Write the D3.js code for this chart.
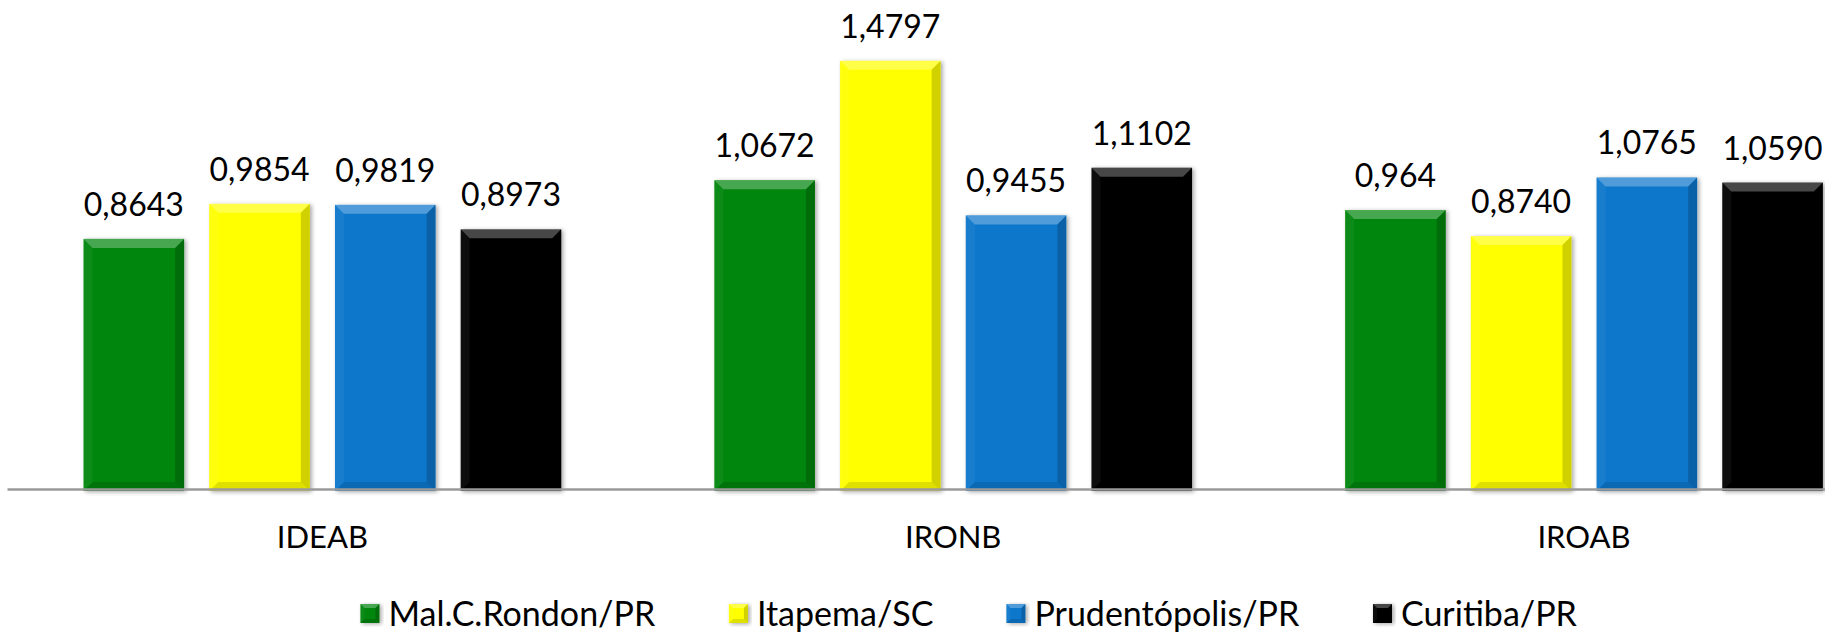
<!DOCTYPE html>
<meta charset="utf-8">
<html>
  <head>
    <script src="https://d3js.org/d3.v7.min.js" type="text/javascript"></script>
    <style>
      body { margin: 0; background: #fff; }
      text { font-family: Lato, "Open Sans", sans-serif; fill: #000; }
    </style>
  </head>
  <body>
    <div id="chart"></div>
    <script type="text/javascript">

      // --data--
      var categories = ["IDEAB", "IRONB", "IROAB"];
      var seriesNames = ["Mal.C.Rondon/PR", "Itapema/SC", "Prudentópolis/PR", "Curitiba/PR"];
      var malRondon = [0.8643, 1.0672, 0.964];
      var itapema = [0.9854, 1.4797, 0.8740];
      var prudentopolis = [0.9819, 0.9455, 1.0765];
      var curitiba = [0.8973, 1.1102, 1.0590];
      var malRondonLabels = ["0,8643", "1,0672", "0,964"];
      var itapemaLabels = ["0,9854", "1,4797", "0,8740"];
      var prudentopolisLabels = ["0,9819", "0,9455", "1,0765"];
      var curitibaLabels = ["0,8973", "1,1102", "1,0590"];

      var seriesValues = [malRondon, itapema, prudentopolis, curitiba];
      var seriesLabels = [malRondonLabels, itapemaLabels, prudentopolisLabels, curitibaLabels];
      var colors = ["#068507", "#ffff00", "#0777cc", "#050505"];

      var width = 1825,
          height = 632,
          axisY = 489,
          bevel = 9;

      var svg = d3.select("#chart").append("svg")
          .attr("width", width)
          .attr("height", height);

      // soft shadow round the bars
      var defs = svg.append("defs");
      var shadow = defs.append("filter").attr("id", "shadow")
          .attr("x", "-10%").attr("y", "-10%").attr("width", "130%").attr("height", "130%");
      shadow.append("feDropShadow")
          .attr("dx", 2).attr("dy", 1)
          .attr("stdDeviation", 2)
          .attr("flood-color", "#000")
          .attr("flood-opacity", 0.35);

      var x0 = d3.scaleBand()
          .domain(categories)
          .range([7, 7 + 3 * 630.8])
          .paddingInner(0)
          .paddingOuter(0);

      var x1 = d3.scaleBand()
          .domain(seriesNames)
          .range([0, x0.bandwidth()])
          .paddingInner(0.2)
          .paddingOuter(0.609);

      var y = d3.scaleLinear()
          .domain([0, 1.6])
          .range([axisY, 26]);

      // flatten into one record per bar
      var bars = [];
      categories.forEach(function(c, i) {
        seriesNames.forEach(function(s, j) {
          bars.push({cat: c, series: s, idx: j, value: seriesValues[j][i], label: seriesLabels[j][i]});
        });
      });

      // draws a bevelled rectangle (Excel style) into group g
      function bevelBox(g, x, yTop, w, h, color, b) {
        g.append("rect")
            .attr("x", x).attr("y", yTop)
            .attr("width", w).attr("height", h)
            .attr("fill", color)
            .attr("filter", "url(#shadow)");
        var pts = {
          top: [[x, yTop], [x + w, yTop], [x + w - b, yTop + b], [x + b, yTop + b]],
          left: [[x, yTop], [x + b, yTop + b], [x + b, yTop + h - b], [x, yTop + h]],
          right: [[x + w, yTop], [x + w, yTop + h], [x + w - b, yTop + h - b], [x + w - b, yTop + b]],
          bottom: [[x, yTop + h], [x + b, yTop + h - b], [x + w - b, yTop + h - b], [x + w, yTop + h]]
        };
        var shade = {
          top: ["#fff", 0.28],
          left: ["#fff", 0.05],
          right: ["#000", 0.18],
          bottom: ["#000", 0.12]
        };
        Object.keys(pts).forEach(function(k) {
          g.append("polygon")
              .attr("points", pts[k].map(function(p) { return p.join(","); }).join(" "))
              .attr("fill", shade[k][0])
              .attr("fill-opacity", shade[k][1]);
        });
      }

      var barG = svg.append("g").attr("class", "bars");
      bars.forEach(function(d) {
        var bx = x0(d.cat) + x1(d.series);
        var by = y(d.value);
        bevelBox(barG.append("g"), bx, by, x1.bandwidth(), axisY + 2 - by, colors[d.idx], bevel);
      });

      // --axis--
      var axis = svg.append("g")
          .attr("transform", "translate(0," + axisY + ")")
          .call(d3.axisBottom(x0).tickSize(0));
      axis.select(".domain")
          .attr("stroke", "#9a9a9a")
          .attr("stroke-width", 2.5);
      axis.selectAll("text")
          .attr("y", 59)
          .attr("dy", null)
          .style("font-family", "Lato, 'Open Sans', sans-serif")
          .style("font-size", "31px")
          .attr("fill", "#000");

      // --value labels--
      svg.append("g").attr("class", "labels")
        .selectAll("text")
        .data(bars)
        .enter().append("text")
          .attr("x", function(d) { return x0(d.cat) + x1(d.series) + x1.bandwidth() / 2; })
          .attr("y", function(d) { return y(d.value) - 23; })
          .attr("text-anchor", "middle")
          .style("font-size", "32px")
          .text(function(d) { return d.label; });

      // --legend--
      var legend = svg.append("g").attr("class", "legend");
      var items = legend.selectAll("g")
          .data(seriesNames)
          .enter().append("g");
      items.each(function(s, i) {
        var g = d3.select(this);
        bevelBox(g, 0, 604, 19, 19, colors[i], 4);
        g.append("text")
            .attr("x", 28)
            .attr("y", 626)
            .style("font-size", "34px")
            .text(s);
      });
      // lay the items out side by side and centre them
      var gap = 73, pos = 0, offsets = [];
      items.each(function() {
        offsets.push(pos);
        pos += this.getBBox().width + gap;
      });
      var total = pos - gap;
      var startX = 969 - total / 2;
      items.attr("transform", function(d, i) { return "translate(" + (startX + offsets[i]) + ",0)"; });

    </script>
  </body>
</html>
